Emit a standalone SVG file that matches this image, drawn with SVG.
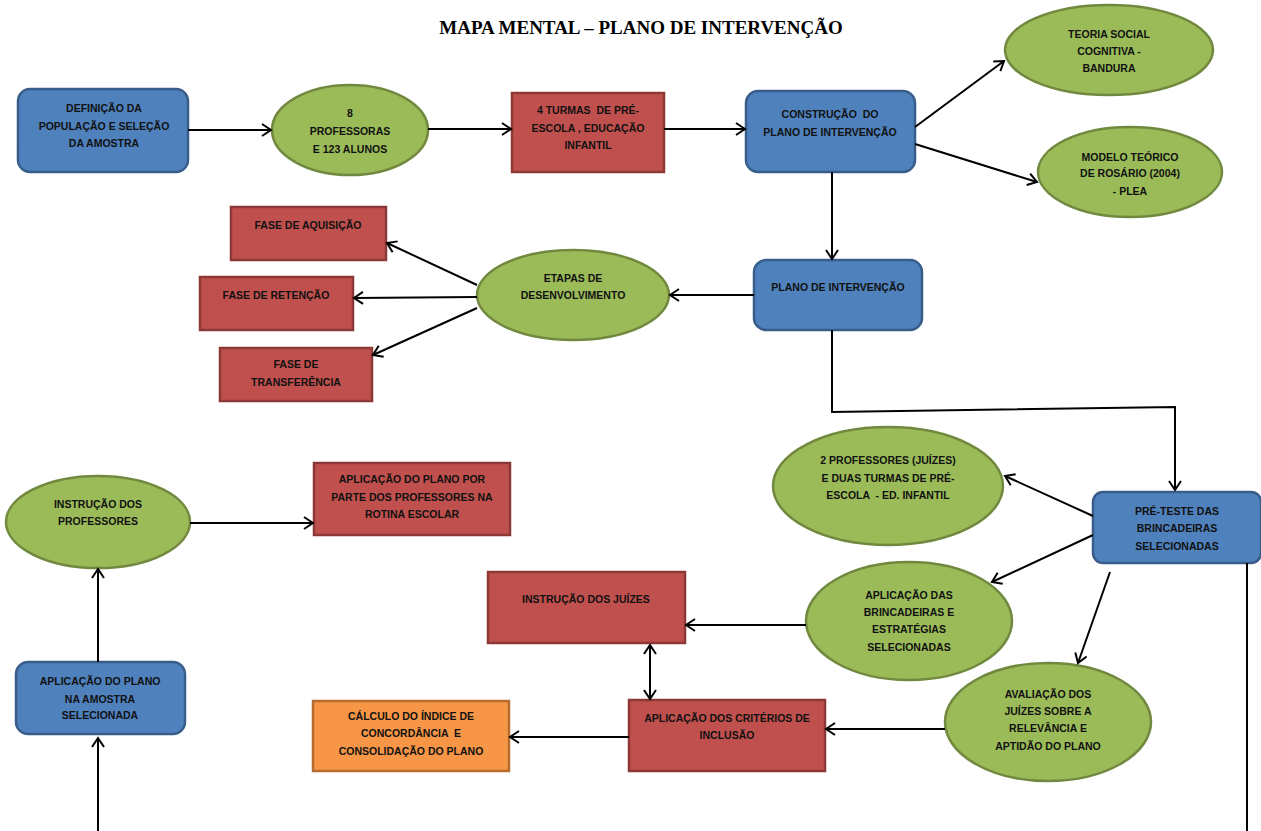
<svg xmlns="http://www.w3.org/2000/svg" width="1261" height="831" viewBox="0 0 1261 831">
<defs>
<marker id="ah" markerUnits="userSpaceOnUse" markerWidth="14" markerHeight="14" refX="10" refY="7" orient="auto-start-reverse">
<path d="M1,1 L10,7 L1,13" fill="none" stroke="#000" stroke-width="2"/>
</marker>
<style>
.blue{fill:#4F81BD;stroke:#385D8A;stroke-width:2.5}
.green{fill:#9BBB59;stroke:#71893F;stroke-width:2.5}
.red{fill:#C0504D;stroke:#8C3836;stroke-width:2.5}
.orange{fill:#F79646;stroke:#B66D31;stroke-width:2.5}
text{font-family:"Liberation Sans",Arial,sans-serif;font-weight:bold;font-size:10.5px;fill:#111;text-anchor:middle;white-space:pre}
.title{font-family:"Liberation Serif","Times New Roman",serif;font-size:19px;fill:#000}
.c line,.c path,.c polyline{stroke:#000;stroke-width:2;fill:none}
</style>
</defs>
<rect width="1261" height="831" fill="#fff"/>
<text class="title" x="641" y="34">MAPA MENTAL – PLANO DE INTERVENÇÃO</text>

<g id="n-definicao"><rect class="blue" x="18" y="89" width="170" height="83" rx="12"/>
<text x="104" y="112">DEFINIÇÃO DA</text><text x="104" y="130">POPULAÇÃO E SELEÇÃO</text><text x="104" y="147">DA AMOSTRA</text></g>

<g id="n-professoras"><ellipse class="green" cx="350" cy="130" rx="78" ry="45"/>
<text x="350" y="117">8</text><text x="350" y="135">PROFESSORAS</text><text x="350" y="153">E 123 ALUNOS</text></g>

<g id="n-turmas"><rect class="red" x="512" y="93" width="152" height="79"/>
<text x="588" y="114">4 TURMAS  DE PRÉ-</text><text x="588" y="132">ESCOLA , EDUCAÇÃO</text><text x="588" y="149">INFANTIL</text></g>

<g id="n-construcao"><rect class="blue" x="746" y="91" width="169" height="81" rx="12"/>
<text x="830" y="118">CONSTRUÇÃO  DO</text><text x="830" y="136">PLANO DE INTERVENÇÃO</text></g>

<g id="n-teoria"><ellipse class="green" cx="1109" cy="50" rx="104" ry="45"/>
<text x="1109" y="38">TEORIA SOCIAL</text><text x="1109" y="55">COGNITIVA -</text><text x="1109" y="72">BANDURA</text></g>

<g id="n-modelo"><ellipse class="green" cx="1130" cy="172" rx="92" ry="45"/>
<text x="1130" y="161">MODELO TEÓRICO</text><text x="1130" y="177">DE ROSÁRIO (2004)</text><text x="1130" y="195">- PLEA</text></g>

<g id="n-plano"><rect class="blue" x="754" y="260" width="168" height="70" rx="12"/>
<text x="838" y="291">PLANO DE INTERVENÇÃO</text></g>

<g id="n-etapas"><ellipse class="green" cx="573" cy="295" rx="96" ry="45"/>
<text x="573" y="282">ETAPAS DE</text><text x="573" y="299">DESENVOLVIMENTO</text></g>

<g id="n-aquisicao"><rect class="red" x="231" y="207" width="155" height="53"/>
<text x="308" y="229">FASE DE AQUISIÇÃO</text></g>

<g id="n-retencao"><rect class="red" x="200" y="277" width="153" height="53"/>
<text x="276" y="299">FASE DE RETENÇÃO</text></g>

<g id="n-transferencia"><rect class="red" x="220" y="348" width="152" height="53"/>
<text x="296" y="368">FASE DE</text><text x="296" y="386">TRANSFERÊNCIA</text></g>

<g id="n-juizes2"><ellipse class="green" cx="888" cy="486" rx="115" ry="59"/>
<text x="888" y="464">2 PROFESSORES (JUÍZES)</text><text x="888" y="482">E DUAS TURMAS DE PRÉ-</text><text x="888" y="499">ESCOLA  - ED. INFANTIL</text></g>

<g id="n-preteste"><rect class="blue" x="1093" y="492" width="168" height="71" rx="10"/>
<text x="1177" y="515">PRÉ-TESTE DAS</text><text x="1177" y="532">BRINCADEIRAS</text><text x="1177" y="550">SELECIONADAS</text></g>

<g id="n-aplicacaodas"><ellipse class="green" cx="909" cy="621" rx="103" ry="59"/>
<text x="909" y="599">APLICAÇÃO DAS</text><text x="909" y="616">BRINCADEIRAS E</text><text x="909" y="633">ESTRATÉGIAS</text><text x="909" y="651">SELECIONADAS</text></g>

<g id="n-avaliacao"><ellipse class="green" cx="1048" cy="722" rx="103" ry="59"/>
<text x="1048" y="698">AVALIAÇÃO DOS</text><text x="1048" y="715">JUÍZES SOBRE A</text><text x="1048" y="732">RELEVÂNCIA E</text><text x="1048" y="750">APTIDÃO DO PLANO</text></g>

<g id="n-instrucaojuizes"><rect class="red" x="488" y="572" width="197" height="71"/>
<text x="586" y="603">INSTRUÇÃO DOS JUÍZES</text></g>

<g id="n-criterios"><rect class="red" x="629" y="700" width="196" height="71"/>
<text x="727" y="722">APLICAÇÃO DOS CRITÉRIOS DE</text><text x="727" y="739">INCLUSÃO</text></g>

<g id="n-calculo"><rect class="orange" x="313" y="701" width="196" height="70"/>
<text x="411" y="720">CÁLCULO DO ÍNDICE DE</text><text x="411" y="737">CONCORDÂNCIA  E</text><text x="411" y="755">CONSOLIDAÇÃO DO PLANO</text></g>

<g id="n-instrucaoprof"><ellipse class="green" cx="98" cy="522" rx="92" ry="46"/>
<text x="98" y="508">INSTRUÇÃO DOS</text><text x="98" y="525">PROFESSORES</text></g>

<g id="n-rotina"><rect class="red" x="314" y="463" width="196" height="72"/>
<text x="412" y="483">APLICAÇÃO DO PLANO POR</text><text x="412" y="501">PARTE DOS PROFESSORES NA</text><text x="412" y="518">ROTINA ESCOLAR</text></g>

<g id="n-amostra"><rect class="blue" x="16" y="662" width="169" height="72" rx="12"/>
<text x="100" y="685">APLICAÇÃO DO PLANO</text><text x="100" y="703">NA AMOSTRA</text><text x="100" y="719">SELECIONADA</text></g>

<g id="connectors" class="c">
<line x1="188" y1="130" x2="271" y2="130" marker-end="url(#ah)"/>
<line x1="428" y1="129" x2="511" y2="129" marker-end="url(#ah)"/>
<line x1="664" y1="129" x2="745" y2="129" marker-end="url(#ah)"/>
<line x1="915" y1="127" x2="1004" y2="61" marker-end="url(#ah)"/>
<line x1="915" y1="144" x2="1037" y2="182" marker-end="url(#ah)"/>
<line x1="832" y1="172" x2="832" y2="259" marker-end="url(#ah)"/>
<line x1="754" y1="295" x2="670" y2="295" marker-end="url(#ah)"/>
<line x1="477" y1="285" x2="387" y2="243" marker-end="url(#ah)"/>
<line x1="477" y1="297" x2="354" y2="298" marker-end="url(#ah)"/>
<line x1="477" y1="308" x2="373" y2="355" marker-end="url(#ah)"/>
<polyline points="832,330 832,412 1175,407 1175,490" marker-end="url(#ah)"/>
<line x1="1093" y1="516" x2="1005" y2="476" marker-end="url(#ah)"/>
<line x1="1093" y1="535" x2="992" y2="582" marker-end="url(#ah)"/>
<line x1="1110" y1="572" x2="1078" y2="663" marker-end="url(#ah)"/>
<line x1="806" y1="625" x2="686" y2="625" marker-end="url(#ah)"/>
<line x1="650" y1="645" x2="650" y2="699" marker-start="url(#ah)" marker-end="url(#ah)"/>
<line x1="945" y1="729" x2="826" y2="729" marker-end="url(#ah)"/>
<line x1="629" y1="737" x2="510" y2="737" marker-end="url(#ah)"/>
<line x1="1247" y1="563" x2="1247" y2="831"/>
<line x1="98" y1="831" x2="98" y2="738" marker-end="url(#ah)"/>
<line x1="98" y1="662" x2="98" y2="569" marker-end="url(#ah)"/>
<line x1="190" y1="523" x2="313" y2="523" marker-end="url(#ah)"/>
</g>
</svg>
